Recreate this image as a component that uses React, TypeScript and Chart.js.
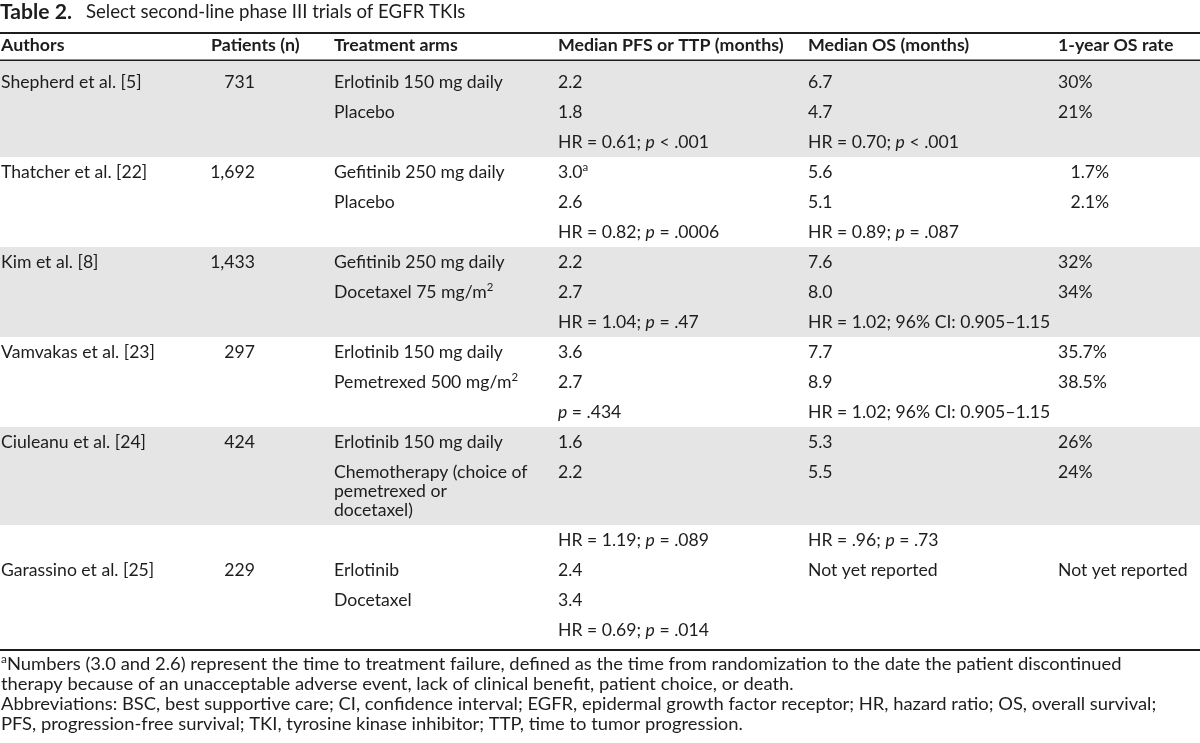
import { useEffect, useRef } from "react";
import { Chart, registerables } from "chart.js";

Chart.register(...registerables);

// ---------- data ----------
const titleLabel = "Table 2.";
const titleText = "Select second-line phase III trials of EGFR TKIs";
const headers = [
  "Authors",
  "Patients (n)",
  "Treatment arms",
  "Median PFS or TTP (months)",
  "Median OS (months)",
  "1-year OS rate",
];
const authors = [
  "Shepherd et al. [5]",
  "Thatcher et al. [22]",
  "Kim et al. [8]",
  "Vamvakas et al. [23]",
  "Ciuleanu et al. [24]",
  "Garassino et al. [25]",
];
const patients = ["731", "1,692", "1,433", "297", "424", "229"];
const arms = [
  ["Erlotinib 150 mg daily", "Placebo", ""],
  ["Gefitinib 250 mg daily", "Placebo", ""],
  ["Gefitinib 250 mg daily", "Docetaxel 75 mg/m^2^", ""],
  ["Erlotinib 150 mg daily", "Pemetrexed 500 mg/m^2^", ""],
  ["Erlotinib 150 mg daily", "Chemotherapy (choice of\npemetrexed or\ndocetaxel)", ""],
  ["Erlotinib", "Docetaxel", ""],
];
const medianPFS = [
  ["2.2", "1.8", "HR = 0.61; *p* < .001"],
  ["3.0^a^", "2.6", "HR = 0.82; *p* = .0006"],
  ["2.2", "2.7", "HR = 1.04; *p* = .47"],
  ["3.6", "2.7", "*p* = .434"],
  ["1.6", "2.2", "HR = 1.19; *p* = .089"],
  ["2.4", "3.4", "HR = 0.69; *p* = .014"],
];
const medianOS = [
  ["6.7", "4.7", "HR = 0.70; *p* < .001"],
  ["5.6", "5.1", "HR = 0.89; *p* = .087"],
  ["7.6", "8.0", "HR = 1.02; 96% CI: 0.905\u20131.15"],
  ["7.7", "8.9", "HR = 1.02; 96% CI: 0.905\u20131.15"],
  ["5.3", "5.5", "HR = .96; *p* = .73"],
  ["Not yet reported", "", ""],
];
const oneYearOS = [
  ["30%", "21%", ""],
  ["\u2007\u20091.7%", "\u2007\u20092.1%", ""],
  ["32%", "34%", ""],
  ["35.7%", "38.5%", ""],
  ["26%", "24%", ""],
  ["Not yet reported", "", ""],
];
const shadedRows = [3, 0, 3, 0, 2, 0];
const footnotes = [
  "^a^Numbers (3.0 and 2.6) represent the time to treatment failure, defined as the time from randomization to the date the patient discontinued",
  "therapy because of an unacceptable adverse event, lack of clinical benefit, patient choice, or death.",
  "Abbreviations: BSC, best supportive care; CI, confidence interval; EGFR, epidermal growth factor receptor; HR, hazard ratio; OS, overall survival;",
  "PFS, progression-free survival; TKI, tyrosine kinase inhibitor; TTP, time to tumor progression.",
];

// ---------- layout / style ----------
const W = 1200;
const H = 743;
const FONT = "Lato, 'Noto Sans', sans-serif";
const INK = "#1e1c1d";
const BAND = "#e5e5e5";
const colX = [1, 255, 334, 558, 808, 1058];
const headerX = [1, 211, 334, 558, 808, 1058];

type Seg = { t: string; it: boolean; sup: boolean };
function parse(text: string): Seg[] {
  const segs: Seg[] = [];
  let it = false;
  let sup = false;
  let cur = "";
  for (const ch of text) {
    if (ch === "*" || ch === "^") {
      if (cur) segs.push({ t: cur, it, sup });
      cur = "";
      if (ch === "*") it = !it;
      else sup = !sup;
    } else cur += ch;
  }
  if (cur) segs.push({ t: cur, it, sup });
  return segs;
}

function drawRich(
  ctx: CanvasRenderingContext2D,
  text: string,
  x: number,
  y: number,
  size: number,
  bold: boolean,
  align: string,
  sx: number
) {
  const segs = parse(text);
  const fontOf = (s: Seg) =>
    `${s.it ? "italic " : ""}${bold ? "bold " : ""}${s.sup ? Math.round(size * 0.62) : size}px ${FONT}`;
  let total = 0;
  const widths = segs.map((s) => {
    ctx.font = fontOf(s);
    const w = ctx.measureText(s.t).width * sx;
    total += w;
    return w;
  });
  let cx = align === "right" ? x - total : x;
  segs.forEach((s, i) => {
    ctx.save();
    ctx.translate(cx, y + (s.sup ? -size * 0.32 : 0));
    ctx.scale(sx, 1);
    ctx.font = fontOf(s);
    ctx.fillStyle = INK;
    ctx.textBaseline = "middle";
    ctx.textAlign = "left";
    ctx.fillText(s.t, 0, 0);
    ctx.restore();
    cx += widths[i];
  });
}

const tablePlugin = {
  id: "tableDraw",
  afterDraw(chart: any) {
    const ctx: CanvasRenderingContext2D = chart.ctx;
    const xs = chart.scales.x;
    const ys = chart.scales.y;
    const px = (v: number) => xs.getPixelForValue(v);
    const py = (v: number) => ys.getPixelForValue(v);

    // horizontal compression to mimic the narrow original face
    ctx.font = `16px ${FONT}`;
    const base = 694 / ctx.measureText(footnotes[1]).width;
    const sxBody = base * 1.03;
    const sxHead = base * 1.04;
    const sxFoot = base * 1.075;
    const BODY = 17;
    const HEAD = 17;

    // row layout
    const rowY: number[][] = [];
    const rowLines: number[][] = [];
    let y = 83;
    for (let g = 0; g < authors.length; g++) {
      rowY.push([]);
      rowLines.push([]);
      for (let r = 0; r < 3; r++) {
        const n = Math.max(
          arms[g][r].split("\n").length,
          medianPFS[g][r].split("\n").length
        );
        rowY[g].push(y);
        rowLines[g].push(n);
        y += 30 + (n - 1) * 19;
      }
    }

    // shaded bands
    ctx.fillStyle = BAND;
    for (let g = 0; g < authors.length; g++) {
      const k = shadedRows[g];
      if (!k) continue;
      const top = g === 0 ? 61 : rowY[g][0] - 16;
      const last = k - 1;
      const bottom = rowY[g][last] + (rowLines[g][last] - 1) * 19 + 14;
      ctx.fillRect(px(0), py(top), px(W) - px(0), py(bottom) - py(top));
    }

    // rules
    ctx.fillStyle = INK;
    ctx.fillRect(px(0), py(32), px(W) - px(0), 2);
    ctx.fillRect(px(0), py(59.5), px(W) - px(0), 1.5);
    ctx.fillRect(px(0), py(649), px(W) - px(0), 2);

    // title
    drawRich(ctx, titleLabel, px(0), py(12), 21, true, "left", base);
    drawRich(ctx, titleText, px(86), py(12), 18.5, false, "left", base);

    // header
    headers.forEach((h, i) => drawRich(ctx, h, px(headerX[i]), py(46), HEAD, true, "left", sxHead));

    // body
    for (let g = 0; g < authors.length; g++) {
      const y0 = rowY[g][0];
      drawRich(ctx, authors[g], px(colX[0]), py(y0), BODY, false, "left", sxBody);
      drawRich(ctx, patients[g], px(colX[1]), py(y0), BODY, false, "right", sxBody);
      for (let r = 0; r < 3; r++) {
        const yy = rowY[g][r];
        arms[g][r].split("\n").forEach((ln, li) =>
          drawRich(ctx, ln, px(colX[2]), py(yy + li * 19), BODY, false, "left", sxBody)
        );
        drawRich(ctx, medianPFS[g][r], px(colX[3]), py(yy), BODY, false, "left", sxBody);
        drawRich(ctx, medianOS[g][r], px(colX[4]), py(yy), BODY, false, "left", sxBody);
        drawRich(ctx, oneYearOS[g][r], px(colX[5]), py(yy), BODY, false, "left", sxBody);
      }
    }

    // footnotes
    footnotes.forEach((f, i) =>
      drawRich(ctx, f, px(1), py(665 + i * 20), 17, false, "left", sxFoot)
    );
  },
};

export default function App() {
  const ref = useRef<HTMLCanvasElement | null>(null);
  useEffect(() => {
    document.body.style.margin = "0";
    const canvas = ref.current;
    if (!canvas) return;
    const chart = new Chart(canvas, {
      type: "scatter",
      data: { datasets: [{ data: [] }] },
      options: {
        animation: false,
        responsive: false,
        events: [],
        layout: { padding: 0 },
        plugins: { legend: { display: false }, tooltip: { enabled: false } },
        scales: {
          x: { type: "linear", min: 0, max: W, display: false },
          y: { type: "linear", min: 0, max: H, reverse: true, display: false },
        },
      },
      plugins: [tablePlugin],
    });
    return () => chart.destroy();
  }, []);
  return (
    <div style={{ width: W, height: H, background: "#fff" }}>
      <canvas ref={ref} width={W} height={H} style={{ display: "block" }} />
    </div>
  );
}
